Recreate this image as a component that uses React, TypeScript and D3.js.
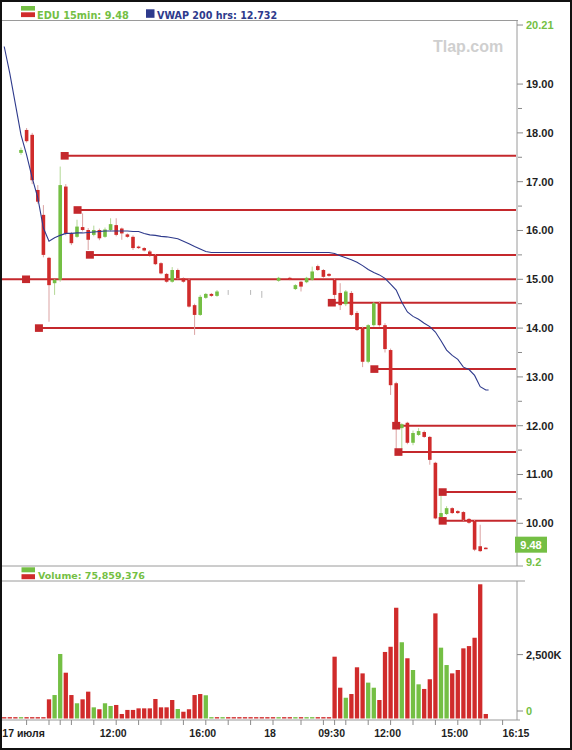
import React from 'react';
import * as d3 from 'd3';

// [barIndex, open, high, low, close]
const candles: [number, number, number, number, number][] = [
  [2, 17.59, 17.70, 17.55, 17.65],
  [3, 18.06, 18.10, 17.80, 17.83],
  [4, 17.96, 18.00, 16.95, 17.03],
  [5, 16.83, 16.93, 16.55, 16.59],
  [6, 16.32, 16.52, 15.45, 15.50],
  [7, 15.44, 15.46, 14.13, 14.88],
  [8, 14.92, 15.00, 14.68, 14.99],
  [9, 14.99, 17.31, 14.95, 16.93],
  [10, 16.90, 16.95, 15.90, 15.94],
  [11, 15.94, 15.97, 15.70, 15.74],
  [12, 15.87, 16.22, 15.85, 16.08],
  [13, 16.07, 16.35, 15.98, 16.01],
  [14, 16.01, 16.05, 15.60, 15.81],
  [15, 15.91, 16.10, 15.88, 16.01],
  [16, 16.01, 16.04, 15.80, 15.84],
  [17, 15.87, 16.06, 15.85, 16.02],
  [18, 16.01, 16.25, 15.98, 16.13],
  [19, 16.11, 16.25, 15.88, 15.91],
  [20, 16.04, 16.06, 15.81, 15.94],
  [21, 15.92, 15.94, 15.85, 15.87],
  [22, 15.87, 15.90, 15.60, 15.64],
  [23, 15.67, 15.69, 15.62, 15.64],
  [24, 15.64, 15.66, 15.57, 15.59],
  [25, 15.57, 15.60, 15.46, 15.48],
  [26, 15.50, 15.52, 15.29, 15.31],
  [27, 15.33, 15.35, 15.10, 15.12],
  [28, 15.11, 15.13, 14.93, 14.95],
  [29, 14.95, 15.25, 14.93, 15.19],
  [30, 15.19, 15.22, 15.00, 15.02],
  [31, 15.02, 15.04, 14.93, 14.95],
  [32, 14.99, 15.01, 14.42, 14.44],
  [33, 14.47, 14.50, 13.86, 14.27],
  [34, 14.27, 14.68, 14.25, 14.64],
  [35, 14.62, 14.72, 14.60, 14.70],
  [36, 14.70, 14.72, 14.64, 14.66],
  [37, 14.66, 14.78, 14.64, 14.75],
  [39, 14.72, 14.78, 14.68, 14.72],
  [43, 14.72, 14.78, 14.68, 14.72],
  [45, 14.68, 14.76, 14.62, 14.68],
  [48, 14.97, 15.05, 14.95, 15.03],
  [50, 15.03, 15.05, 14.98, 14.99],
  [51, 14.80, 14.90, 14.78, 14.88],
  [52, 14.95, 14.97, 14.75, 14.85],
  [53, 14.94, 15.05, 14.92, 15.03],
  [54, 14.99, 15.26, 14.97, 15.16],
  [55, 15.27, 15.30, 15.17, 15.19],
  [56, 15.19, 15.21, 15.03, 15.05],
  [57, 15.11, 15.13, 15.05, 15.07],
  [58, 14.99, 15.01, 14.60, 14.68],
  [59, 14.72, 14.92, 14.37, 14.47],
  [60, 14.49, 14.78, 14.45, 14.75],
  [61, 14.72, 14.76, 14.25, 14.27],
  [62, 14.31, 14.35, 13.94, 13.96],
  [63, 14.00, 14.03, 13.20, 13.31],
  [64, 13.31, 14.08, 13.28, 14.06],
  [65, 14.06, 14.53, 14.03, 14.51],
  [66, 14.51, 14.55, 14.03, 14.06],
  [67, 14.06, 14.10, 13.50, 13.57],
  [68, 13.55, 13.58, 12.63, 12.83],
  [69, 12.87, 12.90, 11.50, 11.97],
  [70, 11.95, 12.05, 11.52, 12.03],
  [71, 12.06, 12.08, 11.62, 11.65],
  [72, 11.65, 11.90, 11.60, 11.85],
  [73, 11.81, 11.95, 11.79, 11.89],
  [74, 11.87, 11.90, 11.75, 11.77],
  [75, 11.77, 11.79, 11.20, 11.30],
  [76, 11.24, 11.26, 10.08, 10.10],
  [77, 10.13, 10.62, 10.08, 10.21],
  [78, 10.19, 10.35, 10.17, 10.31],
  [79, 10.31, 10.33, 10.19, 10.21],
  [80, 10.25, 10.27, 10.19, 10.21],
  [81, 10.23, 10.25, 10.05, 10.07],
  [82, 10.09, 10.11, 9.99, 10.01],
  [83, 10.05, 10.07, 9.43, 9.46],
  [84, 9.53, 9.97, 9.41, 9.43],
  [85, 9.50, 9.51, 9.47, 9.48],
];

// [barIndex, VWAP]
const vwap: [number, number][] = [
  [-1, 19.77], [0, 19.22], [1, 18.59], [2, 17.96], [3, 17.55], [4, 17.08], [5, 16.67],
  [6, 16.05], [7, 15.78], [8, 15.85], [9, 15.90], [10, 15.94], [11, 15.94], [12, 15.95],
  [13, 15.95], [14, 15.96], [15, 15.97], [16, 15.98], [17, 15.99], [18, 15.99], [19, 15.99],
  [20, 15.99], [21, 15.99], [22, 15.98], [23, 15.98], [24, 15.94], [25, 15.91], [26, 15.90],
  [27, 15.88], [28, 15.87], [29, 15.85], [30, 15.83], [31, 15.78], [32, 15.73], [33, 15.67],
  [34, 15.62], [35, 15.57], [36, 15.55], [57, 15.55], [58, 15.53], [59, 15.48], [60, 15.44],
  [61, 15.40], [62, 15.35], [63, 15.28], [64, 15.20], [65, 15.14], [66, 15.09], [67, 15.02],
  [68, 14.90], [69, 14.78], [70, 14.53], [71, 14.33], [72, 14.24], [73, 14.18], [74, 14.10],
  [75, 14.03], [76, 13.92], [77, 13.74], [78, 13.55], [79, 13.44], [80, 13.36], [81, 13.20],
  [82, 13.15], [83, 13.03], [84, 12.80], [85, 12.732], [85.5, 12.732],
];

// [barIndex, volume (K), up 1 / down 0]
const volumes: [number, number, number][] = [
  [-1, 60, 0], [0, 60, 0], [1, 60, 0], [2, 60, 1], [3, 60, 0], [4, 60, 0], [5, 60, 0], [6, 60, 0],
  [7, 850, 0], [8, 1040, 1], [9, 2860, 1], [10, 2030, 0], [11, 1040, 0], [12, 675, 1],
  [13, 850, 0], [14, 1190, 0], [15, 495, 1], [16, 410, 0], [17, 675, 1], [18, 555, 1],
  [19, 600, 0], [20, 200, 0], [21, 380, 0], [22, 380, 0], [23, 450, 0], [24, 450, 0],
  [25, 450, 0], [26, 865, 0], [27, 495, 0], [28, 495, 0], [29, 820, 0], [30, 420, 1],
  [31, 300, 0], [32, 410, 0], [33, 1040, 0], [34, 1085, 0], [35, 1030, 1],
  [36, 60, 1], [37, 60, 0], [38, 60, 1], [39, 60, 0], [40, 60, 0], [41, 60, 0], [42, 60, 0],
  [43, 60, 0], [44, 60, 0], [45, 60, 0], [46, 60, 0], [47, 60, 0], [48, 60, 1], [49, 60, 0],
  [50, 60, 0], [51, 60, 1], [52, 60, 0], [53, 60, 1], [54, 60, 1], [55, 60, 0], [56, 60, 0],
  [57, 60, 0],
  [58, 2740, 0], [59, 1365, 0], [60, 920, 1], [61, 1085, 0], [62, 2270, 0], [63, 2000, 0],
  [64, 1590, 1], [65, 1365, 1], [66, 820, 0], [67, 2950, 0], [68, 3180, 0], [69, 4910, 0],
  [70, 3380, 1], [71, 2670, 0], [72, 2150, 1], [73, 1515, 1], [74, 1310, 0], [75, 1740, 0],
  [76, 4660, 0], [77, 3140, 1], [78, 2370, 1], [79, 2000, 0], [80, 2150, 0], [81, 3110, 0],
  [82, 3210, 0], [83, 3580, 0], [84, 5950, 0], [85, 200, 0],
];

// [price, marker bar index, extends to left edge 1/0]
const levels: [number, number, number][] = [
  [17.53, 9.8, 0], [16.42, 12.1, 0], [15.50, 14.3, 0], [15.00, 2.9, 1], [14.52, 57.5, 0],
  [14.00, 5.2, 0], [13.16, 65.1, 0], [12.00, 69.0, 0], [11.46, 69.4, 0], [10.64, 77.3, 0],
  [10.05, 77.3, 0],
];

const priceMajor = [10, 11, 12, 13, 14, 15, 16, 17, 18, 19];
const priceMinor = [10.5, 11.5, 12.5, 13.5, 14.5, 15.5, 16.5, 17.5, 18.5];
const xTickIdx = [3, 7, 9, 11, 15, 19, 23, 27, 31, 35, 39, 43, 47, 52, 56, 58, 60, 64, 68, 72, 76, 80, 84, 88];
const xTickLabels = ['17 июля', '', '', '', '', '12:00', '', '', '', '16:00', '', '', '18', '', '', '09:30', '', '', '12:00', '', '', '15:00', '', '16:15'];
const volTicks = [0, 2500];
const volTickLabels = ['0', '2,500K'];
const lastPrice = 9.48;
const vwapLast = 12.732;
const rangeHigh = 20.21;
const rangeLow = 9.2;
const totalVolume = '75,859,376';

const RED = '#d02b2b';
const GREEN = '#74bf44';
const LINE_RED = '#c4282c';
const NAVY = '#2e3a8c';
const FONT = '"Liberation Sans", Arial, Helvetica, sans-serif';
const LEGEND_FONT = '"DejaVu Sans", Verdana, sans-serif';

export default function App() {
  const x = d3.scaleLinear().domain([-1, 88]).range([4.2, 502.6]);
  const yP = d3.scaleLinear().domain([9.125, 20.313]).range([566, 20]);
  const yV = d3.scaleLinear().domain([0, 6100]).range([718.5, 580.9]);
  const axisX = 517;
  const lineEnd = 516;
  const bodyW = 3.6;
  const volW = 4.3;

  const vwapPath = d3
    .line<[number, number]>()
    .x((d) => x(d[0]))
    .y((d) => yP(d[1]))(vwap) as string;

  return (
    <svg
      width={572}
      height={750}
      style={{ position: 'absolute', left: 0, top: 0, background: '#fff' }}
      fontFamily={FONT}
    >
      <rect x={0} y={0} width={572} height={750} fill="#fff" />

      {/* watermark */}
      <text x={433} y={52} fontSize={16} fontWeight="bold" fill="#cfcfcf">Tlap.com</text>

      {/* legend */}
      <rect x={21} y={6} width={14} height={4.6} fill={GREEN} />
      <rect x={21} y={12.3} width={14} height={4.8} fill={RED} />
      <text x={37} y={18.5} fontFamily={LEGEND_FONT} fontSize={9.8} fontWeight="bold" fill={GREEN}>
        EDU 15min: {lastPrice.toFixed(2)}
      </text>
      <rect x={146} y={9.3} width={8.5} height={8.5} fill={NAVY} />
      <text x={157} y={18.5} fontFamily={LEGEND_FONT} fontSize={9.6} fontWeight="bold" fill={NAVY}>
        VWAP 200 hrs: {vwapLast}
      </text>

      {/* panel lines */}
      <line x1={2} x2={axisX + 1} y1={20.5} y2={20.5} stroke="#9a9a9a" />
      <line x1={2} x2={523} y1={566} y2={566} stroke="#9a9a9a" />
      <line x1={2} x2={525} y1={581} y2={581} stroke="#9a9a9a" />
      <line x1={axisX} x2={axisX} y1={20} y2={566} stroke="#9a9a9a" />
      <line x1={axisX} x2={axisX} y1={581} y2={720} stroke="#9a9a9a" />
      <line x1={2} x2={520} y1={720} y2={720} stroke="#9a9a9a" />

      {/* support / resistance levels */}
      {levels.map(([p, mi, left], k) => (
        <line
          key={'lv' + k}
          x1={left ? 2 : x(mi)}
          x2={lineEnd}
          y1={yP(p)}
          y2={yP(p)}
          stroke={LINE_RED}
          strokeWidth={2}
        />
      ))}

      {/* candles */}
      {candles.map(([i, o, h, l, c]) => {
        const flat = o === c;
        const up = c > o;
        const col = flat ? '#a8a8a8' : up ? GREEN : RED;
        const wick = flat ? '#b8b8b8' : up ? '#b3d896' : '#dba3a3';
        const top = yP(Math.max(o, c));
        const bot = yP(Math.min(o, c));
        return (
          <g key={'c' + i}>
            <line x1={x(i)} x2={x(i)} y1={yP(h)} y2={yP(l)} stroke={wick} strokeWidth={1} />
            {!flat && (
              <rect x={x(i) - bodyW / 2} y={top} width={bodyW} height={Math.max(1.5, bot - top)} fill={col} />
            )}
          </g>
        );
      })}

      {/* VWAP */}
      <path d={vwapPath} fill="none" stroke={NAVY} strokeWidth={1.1} />

      {/* level markers */}
      {levels.map(([p, mi], k) => (
        <rect key={'mk' + k} x={x(mi) - 4} y={yP(p) - 3.8} width={8} height={7.6} fill={LINE_RED} />
      ))}

      {/* price axis */}
      {priceMajor.map((v) => (
        <g key={'pm' + v}>
          <line x1={axisX} x2={axisX + 6} y1={yP(v)} y2={yP(v)} stroke="#8a8a8a" />
          <text x={axisX + 9} y={yP(v)} dy="0.36em" fontSize={11} fontWeight="bold" fill="#1e1e1e">
            {v.toFixed(2)}
          </text>
        </g>
      ))}
      {priceMinor.map((v) => (
        <line key={'pn' + v} x1={axisX + 1} x2={axisX + 5} y1={yP(v)} y2={yP(v)} stroke="#8a8a8a" />
      ))}
      <line x1={axisX} x2={axisX + 6} y1={yP(rangeHigh)} y2={yP(rangeHigh)} stroke="#8a8a8a" />
      <text x={axisX + 9} y={yP(rangeHigh)} dy="0.36em" fontSize={11} fontWeight="bold" fill={GREEN}>
        {rangeHigh.toFixed(2)}
      </text>
      <text x={axisX + 9} y={yP(rangeLow)} dy="0.36em" fontSize={11} fontWeight="bold" fill={GREEN}>
        {String(rangeLow)}
      </text>
      <rect x={515} y={yP(lastPrice) - 4 - 8} width={32} height={16} fill={GREEN} />
      <text x={531} y={yP(lastPrice) - 4} dy="0.36em" textAnchor="middle" fontSize={11} fontWeight="bold" fill="#fff">
        {lastPrice.toFixed(2)}
      </text>

      {/* volume legend */}
      <rect x={21.5} y={567.3} width={13.5} height={5} fill={GREEN} />
      <rect x={21.5} y={574.2} width={13.5} height={5} fill={RED} />
      <text x={38} y={578.5} fontFamily={LEGEND_FONT} fontSize={9.5} fontWeight="bold" fill={GREEN}>
        Volume: {totalVolume}
      </text>

      {/* volume bars */}
      {volumes.map(([i, v, up]) => (
        <rect
          key={'v' + i}
          x={x(i) - volW / 2}
          y={yV(v)}
          width={volW}
          height={yV(0) - yV(v)}
          fill={up ? GREEN : RED}
        />
      ))}

      {/* volume axis */}
      {volTicks.map((v, k) => (
        <g key={'vt' + v}>
          <line x1={axisX} x2={axisX + 6} y1={yV(v) - 7.5} y2={yV(v) - 7.5} stroke="#8a8a8a" />
          <text
            x={axisX + 9}
            y={yV(v) - 7.5}
            dy="0.36em"
            fontSize={11}
            fontWeight="bold"
            fill={v === 0 ? GREEN : '#1e1e1e'}
          >
            {volTickLabels[k]}
          </text>
        </g>
      ))}

      {/* x axis */}
      {xTickIdx.map((t, k) => (
        <g key={'xt' + k}>
          <line x1={x(t)} x2={x(t)} y1={720} y2={725} stroke="#8a8a8a" />
          {xTickLabels[k] && (
            <text
              x={k === xTickIdx.length - 1 ? x(t) : x(t) - 3}
              y={737}
              textAnchor={k === xTickIdx.length - 1 ? 'start' : 'middle'}
              fontSize={10.5}
              fontWeight="bold"
              fill="#1e1e1e"
            >
              {xTickLabels[k]}
            </text>
          )}
        </g>
      ))}

      {/* outer frame */}
      <rect x={1} y={1} width={570} height={748} fill="none" stroke="#111" strokeWidth={2} />
    </svg>
  );
}
